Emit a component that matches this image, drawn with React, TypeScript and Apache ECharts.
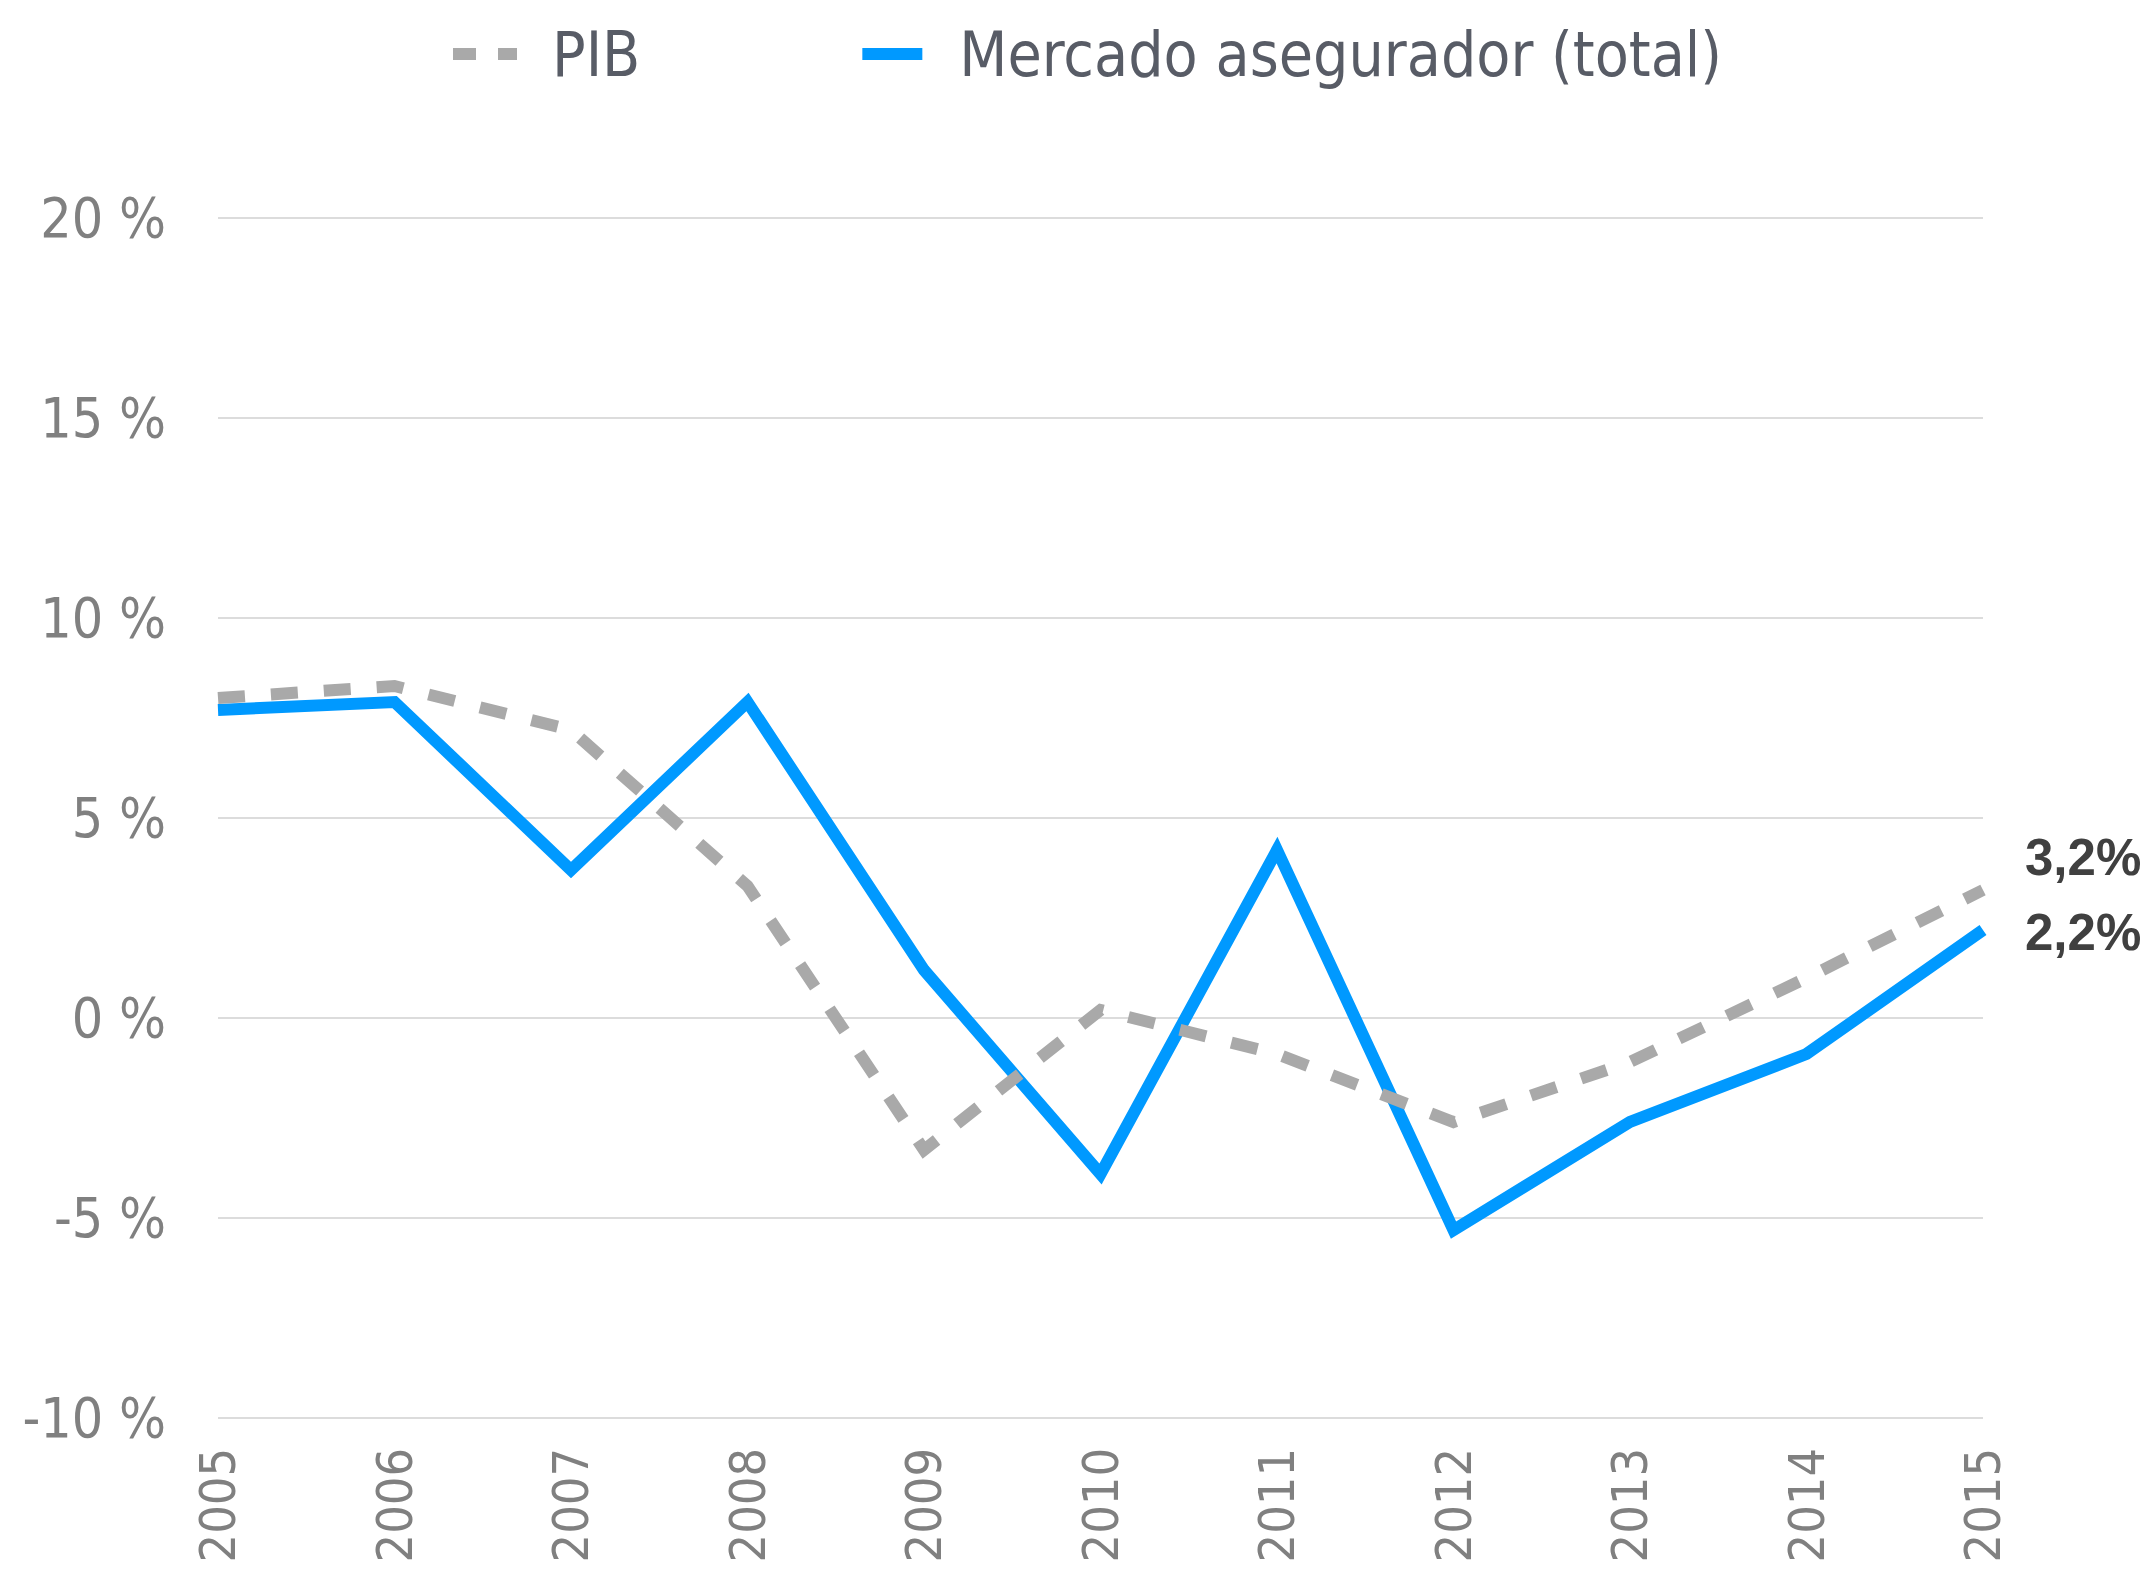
import React, { useEffect, useRef } from 'react';
import * as echarts from 'echarts';

const years = ['2005', '2006', '2007', '2008', '2009', '2010', '2011', '2012', '2013', '2014', '2015'];
const pibValues = [8.0, 8.3, 7.2, 3.3, -3.3, 0.2, -0.9, -2.6, -1.1, 1.0, 3.2];
const mercadoValues = [7.7, 7.9, 3.7, 7.9, 1.2, -3.9, 4.2, -5.3, -2.6, -0.9, 2.2];
const seriesNames = ['PIB', 'Mercado asegurador (total)'];
const yMin = -10;
const yMax = 20;
const yStep = 5;

const AXIS_FONT = '"DejaVu Sans Condensed", "Liberation Sans Narrow", sans-serif';
const LEGEND_FONT = '"DejaVu Sans Condensed", "Liberation Sans Narrow", sans-serif';

const fmtEnd = (p: any) => {
  const v = Array.isArray(p.value) ? p.value[p.value.length - 1] : p.value;
  return Number(v).toFixed(1).replace('.', ',') + '%';
};

export default function App() {
  const ref = useRef<HTMLDivElement>(null);
  useEffect(() => {
    const chart = echarts.init(ref.current!, null, { renderer: 'svg' });
    chart.setOption({
      animation: false,
      backgroundColor: '#ffffff',
      grid: {
        left: 218,
        right: 169,
        top: 218,
        bottom: 151,
        containLabel: false,
        outerBoundsMode: 'none',
      },
      legend: {
        left: 448,
        top: 18,
        itemWidth: 64,
        itemHeight: 12,
        itemGap: 222,
        data: [
          { name: seriesNames[0], icon: 'path://M0,0H23V12H0ZM45,0H64V12H45Z' },
          { name: seriesNames[1], icon: 'path://M0,0H60V12H0Z' },
        ],
        textStyle: {
          fontFamily: LEGEND_FONT,
          fontSize: 62,
          lineHeight: 62,
          color: '#585c66',
          padding: [0, 0, 0, 30],
        },
      },
      xAxis: {
        type: 'category',
        data: years,
        boundaryGap: false,
        axisLine: { show: false },
        axisTick: { show: false },
        splitLine: { show: false },
        axisLabel: {
          rotate: 90,
          interval: 0,
          margin: 30,
          fontFamily: AXIS_FONT,
          fontSize: 50,
          color: '#808080',
        },
      },
      yAxis: {
        type: 'value',
        min: yMin,
        max: yMax,
        interval: yStep,
        axisLine: { show: false },
        axisTick: { show: false },
        splitLine: { show: true, lineStyle: { color: '#d0d0d0', width: 1.5 } },
        axisLabel: {
          margin: 52,
          formatter: (v: number) => `${v} %`,
          fontFamily: AXIS_FONT,
          fontSize: 55,
          color: '#808080',
        },
      },
      series: [
        {
          name: seriesNames[1],
          type: 'line',
          data: mercadoValues,
          symbol: 'none',
          z: 2,
          color: '#0099ff',
          lineStyle: { color: '#0099ff', width: 12, join: 'miter', miterLimit: 10 },
          endLabel: {
            show: true,
            formatter: fmtEnd,
            distance: 42,
            offset: [0, 2],
            fontFamily: '"Liberation Sans", sans-serif',
            fontWeight: 'bold',
            fontSize: 51,
            color: '#404040',
          },
        },
        {
          name: seriesNames[0],
          type: 'line',
          data: pibValues,
          symbol: 'none',
          z: 3,
          color: '#a9a9a9',
          lineStyle: { color: '#a9a9a9', width: 12, type: [27, 26], cap: 'butt', join: 'miter' },
          endLabel: {
            show: true,
            formatter: fmtEnd,
            distance: 42,
            offset: [0, -33],
            fontFamily: '"Liberation Sans", sans-serif',
            fontWeight: 'bold',
            fontSize: 51,
            color: '#404040',
          },
        },
      ],
    });
    return () => chart.dispose();
  }, []);
  return (
    <div
      ref={ref}
      style={{ position: 'absolute', left: 0, top: 0, width: 2152, height: 1569 }}
    />
  );
}
